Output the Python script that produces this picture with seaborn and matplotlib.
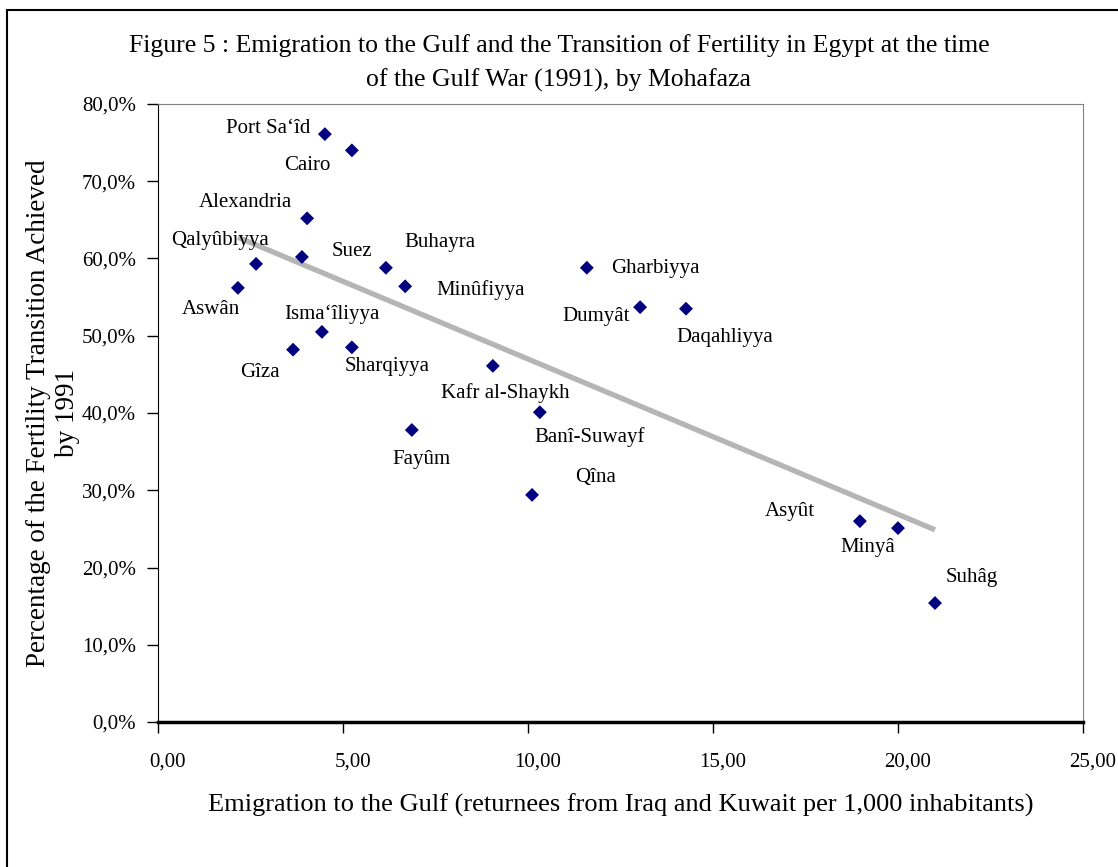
import numpy as np
import pandas as pd
import matplotlib
matplotlib.use("Agg")
import matplotlib.pyplot as plt
import matplotlib.ticker as mticker
import matplotlib.transforms as mtransforms
from matplotlib.patches import Rectangle
import seaborn as sns

# data
mohafaza = ["Port Sa\u2018\u00eed", "Cairo", "Alexandria", "Suez", "Qaly\u00fbbiyya", "Asw\u00e2n",
            "Buhayra", "Min\u00fbfiyya", "Isma\u2018\u00eeliyya", "G\u00eeza", "Sharqiyya",
            "Kafr al-Shaykh", "Ban\u00ee-Suwayf", "Fay\u00fbm", "Q\u00eena", "Gharbiyya",
            "Dumy\u00e2t", "Daqahliyya", "Asy\u00fbt", "Miny\u00e2", "Suh\u00e2g"]
emigration = [4.51, 5.24, 4.03, 3.89, 2.65, 2.16,
              6.16, 6.68, 4.43, 3.65, 5.24,
              9.05, 10.32, 6.86, 10.11, 11.59,
              13.03, 14.27, 18.97, 20.00, 21.00]
transition = [76.1, 74.0, 65.2, 60.2, 59.3, 56.2,
              58.8, 56.4, 50.5, 48.2, 48.5,
              46.1, 40.1, 37.8, 29.4, 58.8,
              53.7, 53.5, 26.0, 25.1, 15.4]
x_ticks = [0, 5, 10, 15, 20, 25]
y_ticks = [0, 10, 20, 30, 40, 50, 60, 70, 80]

# label offsets (pixels) from each point
label_dx = [-57, -45, -62, 50, -36, -27, 54, 75, 10, -33, 35, 12, 50, 10, 63, 69, -44, 39, -70, -30, 37]
label_dy = [6, -15, 16, 5, 23, -22, 25, -4, 18, -23, -19, -27, -25, -30, 17, -1, -9, -29, 10, -19, 26]

df = pd.DataFrame({"x": emigration, "y": transition, "name": mohafaza})

sns.set_style("white")
plt.rcParams["font.family"] = ["Liberation Serif", "DejaVu Serif"]
plt.rcParams["text.color"] = "black"
plt.rcParams["axes.labelcolor"] = "black"
plt.rcParams["xtick.color"] = "black"
plt.rcParams["ytick.color"] = "black"

fig = plt.figure(figsize=(11.18, 8.67), dpi=100)
ax = fig.add_axes([158 / 1118, 1 - 722 / 867, (1083 - 158) / 1118, (722 - 104) / 867])

sns.regplot(data=df, x="x", y="y", ci=None, ax=ax, scatter=False,
            line_kws={"color": "#b5b5b5", "lw": 3.8, "solid_capstyle": "butt"})
sns.scatterplot(data=df, x="x", y="y", ax=ax, marker="D", s=50, color="#000080",
                edgecolor="none", zorder=5)

for i, row in df.iterrows():
    ax.annotate(row["name"], (row["x"], row["y"]), xytext=(label_dx[i], label_dy[i]),
                textcoords="offset pixels", ha="center", va="center", fontsize=15)

ax.set_xlim(0, 25)
ax.set_ylim(0, 80)
ax.set_xticks(x_ticks)
ax.set_yticks(y_ticks)
ax.xaxis.set_major_formatter(mticker.FuncFormatter(lambda v, p: f"{v:.2f}".replace(".", ",")))
ax.yaxis.set_major_formatter(mticker.FuncFormatter(lambda v, p: f"{v:.1f}%".replace(".", ",")))
ax.tick_params(axis="both", direction="out", length=8, width=1, labelsize=15,
               left=True, bottom=True)
ax.tick_params(axis="x", pad=14)
ax.tick_params(axis="y", pad=8)

# excel puts the x tick labels a little to the right of the ticks
shift = mtransforms.ScaledTranslation(10 / 100, 0, fig.dpi_scale_trans)
for lbl in ax.get_xticklabels():
    lbl.set_transform(lbl.get_transform() + shift)

ax.spines["left"].set_color("black")
ax.spines["bottom"].set_color("black")
ax.spines["bottom"].set_linewidth(2.5)
ax.spines["top"].set_color("#808080")
ax.spines["right"].set_color("#808080")

ax.set_xlabel("Emigration to the Gulf (returnees from Iraq and Kuwait per 1,000 inhabitants)",
              fontsize=19, labelpad=16)
ax.set_ylabel("")
fig.text(53 / 1118, 1 - 413 / 867, "Percentage of the Fertility Transition Achieved\nby 1991",
         rotation=90, ha="center", va="center", multialignment="center",
         fontsize=19.5, linespacing=1.25)

fig.text(0.5, 1 - 46 / 867, "Figure 5 : Emigration to the Gulf and the Transition of Fertility in Egypt at the time",
         ha="center", va="center", fontsize=18.5)
fig.text(0.5, 1 - 80 / 867, "of the Gulf War (1991), by Mohafaza", ha="center", va="center", fontsize=18.5)

fig.patches.append(Rectangle((7 / 1118, -0.1), 1.2, 1 - 10 / 867 + 0.1, transform=fig.transFigure,
                             fill=False, edgecolor="black", lw=1.5))

fig.savefig("out.png", dpi=100)
